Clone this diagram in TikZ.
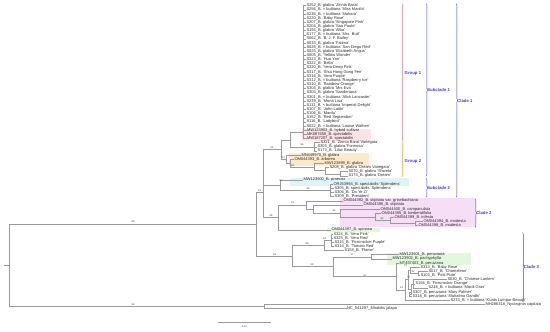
\documentclass[tikz,border=0pt]{standalone}
\usepackage{fontspec}
\setmainfont{Liberation Sans}
\usetikzlibrary{decorations.pathreplacing}
\definecolor{br}{HTML}{9A9A9A}
\definecolor{tx}{HTML}{2A2A2A}
\definecolor{cb}{HTML}{3C3CF5}
\definecolor{hpink}{HTML}{FCE3E7}
\definecolor{horange}{HTML}{FCEACB}
\definecolor{hcyan}{HTML}{DDF5F8}
\definecolor{hmag}{HTML}{F7DEF7}
\definecolor{hgreen}{HTML}{E2F8DC}
\definecolor{g1c}{HTML}{F2A2AB}
\definecolor{g2c}{HTML}{F4C27A}
\tikzset{
  edge/.style={draw=br,line width=0.45pt},
  leaf/.style={anchor=west,inner sep=0.3pt,text=tx,font=\fontsize{4}{4.2}\selectfont},
  sup/.style={text=tx,font=\fontsize{2.4}{2.6}\selectfont,inner sep=0.3pt},
  cladelab/.style={anchor=west,text=cb,font=\fontsize{4.3}{5}\bfseries\selectfont,inner sep=0.5pt},
  bracebar/.style={draw=cb,line width=0.4pt,decorate,decoration={brace,amplitude=1.6pt}},
}
\newcommand{\Lf}[3]{\node[leaf] (L#1) at (#2,{5.7+4.15*(#1-1)}) {#3};}
\begin{document}
\begin{tikzpicture}[x=1pt,y=-1pt]
\useasboundingbox (0,0) rectangle (550,332);
% highlights
\fill[hpink] (302,128.6) rectangle (371,140.6);
\fill[horange] (289,153.1) rectangle (369,165.5);
\fill[hcyan] (290,177.8) rectangle (409,186.2);
\fill[hmag] (340,198.4) rectangle (476,227.4);
\fill[hgreen] (327,227.8) rectangle (380,231.9);
\fill[hgreen] (387,252.6) rectangle (471,265.3);
% group lines
\draw[g1c,line width=0.5pt] (402,3.5) -- (402,140.5);
\draw[g2c,line width=0.5pt] (402,141.5) -- (402,177.3);
% leaves
\Lf{1}{306}{S252\_B. glabra 'Zinnia Barat'}
\Lf{2}{306}{S256\_B. × buttiana 'Miss Manila'}
\Lf{3}{306}{S236\_B. × buttiana 'Mahara'}
\Lf{4}{306}{S220\_B. 'Baby Rose'}
\Lf{5}{306}{S207\_B. glabra 'Singapore Pink'}
\Lf{6}{306}{S204\_B. glabra 'Sao Paulo'}
\Lf{7}{306}{S194\_B. glabra 'Alba'}
\Lf{8}{306}{S177\_B. × buttiana 'Mrs. Butt'}
\Lf{9}{306}{S062\_B. 'B. J. F. Bailey'}
\Lf{10}{306}{S033\_B. glabra 'Fatima'}
\Lf{11}{306}{S026\_B. × buttiana 'San Diego Red'}
\Lf{12}{306}{S025\_B. glabra 'Elizabeth Angus'}
\Lf{13}{306}{S005\_B. 'Yellow Wonder'}
\Lf{14}{306}{S323\_B. 'Hua Yan'}
\Lf{15}{306}{S322\_B. 'Bella'}
\Lf{16}{306}{S320\_B. 'Vera Deep Pink'}
\Lf{17}{306}{S317\_B. 'Shui Hong Gong Fen'}
\Lf{18}{306}{S316\_B. 'Vera Purple'}
\Lf{19}{306}{S312\_B. × buttiana 'Raspberry Ice'}
\Lf{20}{306}{S310\_B. 'Rainbow Orange'}
\Lf{21}{306}{S304\_B. glabra 'Mrs Eva'}
\Lf{22}{306}{S303\_B. glabra 'Sanderiana'}
\Lf{23}{306}{S301\_B. × buttiana 'Alick Lancaster'}
\Lf{24}{306}{S239\_B. 'Mona Lisa'}
\Lf{25}{306}{S113\_B. × buttiana 'Imperial Delight'}
\Lf{26}{306}{S107\_B. 'John Lattin'}
\Lf{27}{306}{S106\_B. 'Mardu'}
\Lf{28}{306}{S152\_B. 'Red September'}
\Lf{29}{306}{S116\_B. 'Ladybird'}
\Lf{30}{306}{S022\_B. × buttiana 'Louise Wathen'}
\Lf{31}{306.5}{MW123903\_B. hybrid cultivar}
\Lf{32}{306.5}{MK087658\_B. spectabilis}
\Lf{33}{306.5}{MW187207\_B. spectabilis}
\Lf{34}{320}{S321\_B. 'Zinnia Barat Variegata'}
\Lf{35}{317}{S303\_B. glabra 'Formosa'}
\Lf{36}{317}{S173\_B. 'Lilac Beauty'}
\Lf{37}{301}{MN449970\_B. glabra}
\Lf{38}{294}{OM044393\_B. arborea}
\Lf{39}{324}{MW123899\_B. glabra}
\Lf{40}{329}{S208\_B. glabra 'Dream Variegata'}
\Lf{41}{348}{S070\_B. glabra 'Shweta'}
\Lf{42}{348}{S174\_B. glabra 'Dream'}
\Lf{43}{303}{MW123900\_B. praecox}
\Lf{44}{333}{OR253994\_B. spectabilis 'Splendens'}
\Lf{45}{334}{S305\_B. spectabilis 'Splendens'}
\Lf{46}{334}{S306\_B. 'Da Ye Zi'}
\Lf{47}{334}{S309\_B. 'President'}
\Lf{48}{343}{OM044392\_B. stipitata var. grisebachiana}
\Lf{49}{363}{OM044396\_B. stipitata}
\Lf{50}{380}{OM044400\_B. campanulata}
\Lf{51}{381}{OM044395\_B. berberidifolia}
\Lf{52}{394}{OM044399\_B. infesta}
\Lf{53}{423}{OM044394\_B. modesta}
\Lf{54}{418}{OM044398\_B. modesta}
\Lf{55}{331}{OM044397\_B. spinosa}
\Lf{56}{333}{S324\_B. 'Vera Pink'}
\Lf{57}{333}{S325\_B. 'Vera Red'}
\Lf{58}{334}{S315\_B. 'Firecracker Purple'}
\Lf{59}{334}{S314\_B. 'Tomato Red'}
\Lf{60}{344}{S158\_B. 'Flame'}
\Lf{61}{399}{MW123901\_B. peruviana}
\Lf{62}{392}{MW123902\_B. pachyphylla}
\Lf{63}{399}{MT457403\_B. peruviana}
\Lf{64}{420}{S313\_B. 'Baby Rose'}
\Lf{65}{428}{S017\_B. 'Chameleon'}
\Lf{66}{420}{S103\_B. 'Pink Pixie'}
\Lf{67}{447}{S030\_B. 'Chinese Lantern'}
\Lf{68}{415}{S156\_B. 'Firecracker Orange'}
\Lf{69}{428}{S248\_B. × buttiana 'Mardi Gras'}
\Lf{70}{412}{S307\_B. peruviana 'Mary Palmer'}
\Lf{71}{412}{S318\_B. peruviana 'Mahatma Gandhi'}
\Lf{72}{450}{S233\_B. × buttiana 'Kuala Lumpur Beauty'}
\Lf{73}{485}{MH286318\_Nyctaginia capitata}
\Lf{74}{346.5}{NC\_041297\_Mirabilis jalapa}
% ---- Clade 1
\coordinate (g1) at (303,132.7);
\foreach \i in {1,...,33} {\draw[edge] (g1) |- (L\i.west);}
\coordinate (g2a) at (314,146.8);
\foreach \i in {34,35,36} {\draw[edge] (g2a) |- (L\i.west);}
\coordinate (n86) at (290,139.75);
\draw[edge] (n86) |- (g1); \draw[edge] (n86) |- (g2a);
\coordinate (n5) at (340,173.8);
\draw[edge] (n5) |- (L41.west); \draw[edge] (n5) |- (L42.west);
\coordinate (n4) at (325,170.7);
\draw[edge] (n4) |- (L40.west); \draw[edge] (n4) |- (n5);
\coordinate (n3) at (314,167.05);
\draw[edge] (n3) |- (L39.west); \draw[edge] (n3) |- (n4);
\coordinate (nOr) at (290,163.1);
\draw[edge] (nOr) |- (L38.west); \draw[edge] (nOr) |- (n3);
\coordinate (nMN) at (286,159.1);
\draw[edge] (nMN) |- (L37.west); \draw[edge] (nMN) |- (nOr);
\coordinate (n57) at (281.7,149.4);
\draw[edge] (n57) |- (n86); \draw[edge] (n57) |- (nMN);
\coordinate (sp) at (330,190.35);
\foreach \i in {44,...,47} {\draw[edge] (sp) |- (L\i.west);}
\coordinate (s2) at (280,185.2);
\draw[edge] (s2) |- (L43.west); \draw[edge] (s2) |- (sp);
\coordinate (k0) at (263,167.3);
\draw[edge] (k0) |- (n57); \draw[edge] (k0) |- (s2);
% ---- Clade 2 + spinosa
\coordinate (cF) at (415,223.5);
\draw[edge] (cF) |- (L53.west); \draw[edge] (cF) |- (L54.west);
\coordinate (cE) at (390,220.45);
\draw[edge] (cE) |- (L52.west); \draw[edge] (cE) |- (cF);
\coordinate (cD) at (375,216.8);
\draw[edge] (cD) |- (L51.west); \draw[edge] (cD) |- (cE);
\coordinate (cC) at (340,212.9);
\draw[edge] (cC) |- (L50.west); \draw[edge] (cC) |- (cD);
\coordinate (cB) at (313.3,208.9);
\draw[edge] (cB) |- (L49.west); \draw[edge] (cB) |- (cC);
\coordinate (c2) at (306.7,204.8);
\draw[edge] (c2) |- (L48.west); \draw[edge] (c2) |- (cB);
\coordinate (c2n) at (278.7,217.3);
\draw[edge] (c2n) |- (c2); \draw[edge] (c2n) |- (L55.west);
\coordinate (c1) at (263,192.3);
\draw[edge] (c1) |- (k0); \draw[edge] (c1) |- (c2n);
% ---- Clade 3
\coordinate (a1) at (331,240.2);
\foreach \i in {56,...,59} {\draw[edge] (a1) |- (L\i.west);}
\coordinate (c3a) at (324,245.4);
\draw[edge] (c3a) |- (a1); \draw[edge] (c3a) |- (L60.west);
\coordinate (pP) at (371.7,256.75);
\draw[edge] (pP) |- (L61.west); \draw[edge] (pP) |- (L62.west);
\coordinate (x1) at (418,273.4);
\draw[edge] (x1) |- (L65.west); \draw[edge] (x1) |- (L66.west);
\coordinate (x2) at (410,270.3);
\draw[edge] (x2) |- (L64.west); \draw[edge] (x2) |- (x1);
\coordinate (yY) at (413,283.8);
\foreach \i in {67,68,69} {\draw[edge] (yY) |- (L\i.west);}
\coordinate (zZ) at (409,294.15);
\draw[edge] (zZ) |- (L70.west); \draw[edge] (zZ) |- (L71.west);
\coordinate (wW) at (411,289);
\draw[edge] (wW) |- (yY); \draw[edge] (wW) |- (zZ);
\coordinate (x6) at (408,279.65);
\draw[edge] (x6) |- (x2); \draw[edge] (x6) |- (wW);
\coordinate (x7) at (405,290);
\draw[edge] (x7) |- (x6); \draw[edge] (x7) |- (L72.west);
\coordinate (qQ) at (396.7,276.7);
\draw[edge] (qQ) |- (L63.west); \draw[edge] (qQ) |- (x7);
\coordinate (c3b) at (333.3,266.7);
\draw[edge] (c3b) |- (pP); \draw[edge] (c3b) |- (qQ);
\coordinate (c3r) at (292,256.05);
\draw[edge] (c3r) |- (c3a); \draw[edge] (c3r) |- (c3b);
% ---- backbone and root
\coordinate (bg) at (256,224.2);
\draw[edge] (bg) |- (c1); \draw[edge] (bg) |- (c3r);
\coordinate (og) at (264,306.6);
\draw[edge] (og) |- (L73.west); \draw[edge] (og) |- (L74.west);
\coordinate (root) at (9,265.4);
\coordinate (rootstub) at (4,265.4);
\draw[edge] (rootstub) -- (root);
\draw[edge] (root) |- (bg); \draw[edge] (root) |- (og);
% ---- support values
\node[sup] (s1) at (133,222) {99};
\node[sup] (s2l) at (133,304.3) {99};
\node[sup] (s3) at (259.5,190.2) {13};
\node[sup] (s4) at (271,215.3) {98};
\node[sup] (s5) at (274.5,254.2) {58};
\node[sup] (s6) at (307,243.3) {88};
\node[sup] (s7) at (324.5,238.6) {94};
\node[sup] (s8) at (312,264.8) {99};
\node[sup] (s9) at (352,254.6) {97};
\node[sup] (s10) at (365,275.2) {87};
\node[sup] (s11) at (405.5,265.5) {74};
\node[sup] (s12) at (413,271.6) {92};
\node[sup] (s13) at (408.5,277.8) {70};
\node[sup] (s14) at (401.5,287.8) {51};
\node[sup] (s15) at (292.5,202.8) {91};
\node[sup] (s16) at (334,210.9) {98};
\node[sup] (s17) at (382,218.5) {99};
\node[sup] (s18) at (302,145) {86};
\node[sup] (s19) at (283.5,157.3) {57};
\node[sup] (s20) at (292.5,165.2) {98};
\node[sup] (s21) at (272,147.6) {61};
\node[sup] (s22) at (281,180.4) {87};
\node[sup] (s23) at (308,188.6) {96};
% ---- scale bar
\coordinate (sb0) at (218,322); \coordinate (sb1) at (270.5,322);
\draw[edge] (sb0) -- (sb1);
\node[sup] (sbl) at (244.3,326.8) {0.01};
% ---- brackets and labels
\draw[bracebar] (426,3.5) -- (426,176.5) node[midway,right=0.6pt,cladelab] (sc1) {Subclade 1};
\draw[bracebar] (426,178) -- (426,197.5) node[midway,right=0.6pt,cladelab] (sc2) {Subclade 2};
\draw[bracebar] (456,3.5) -- (456,197.5) node[midway,right=0.6pt,cladelab] (cl1) {Clade 1};
\draw[bracebar] (475,199) -- (475,227.5) node[midway,right=0.6pt,cladelab] (cl2) {Clade 2};
\draw[bracebar] (522.5,232.5) -- (522.5,301.7) node[midway,right=0.6pt,cladelab] (cl3) {Clade 3};
\node[cladelab] (gr1) at (404,73.7) {Group 1};
\node[cladelab] (gr2) at (404,161.3) {Group 2};
\end{tikzpicture}
\end{document}
